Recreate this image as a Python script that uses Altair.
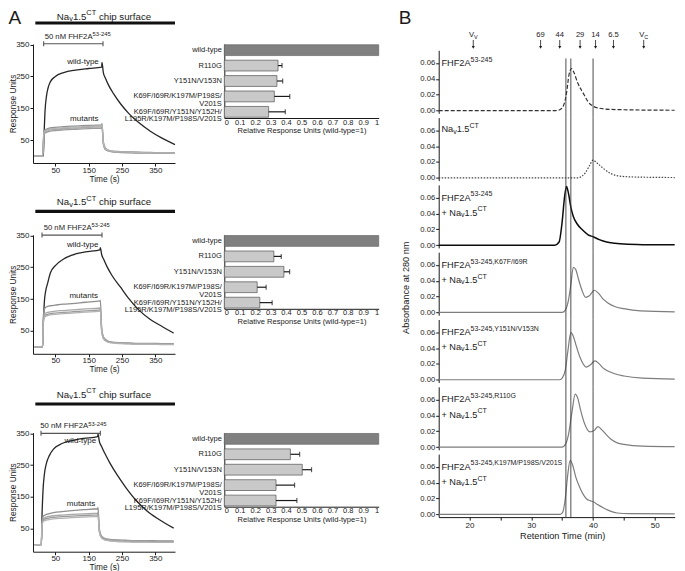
import altair as alt
import pandas as pd

FONT = "Liberation Sans"
INK = "#1a1a1a"

# ---------------- Panel A: sensorgram traces (Response Units vs Time) ----------------
time_nav15 = [-12, 12, 14, 16, 19, 23, 28, 35, 50, 75, 110, 150, 189, 190, 194, 200, 210, 225, 245, 270, 300, 335, 370, 409]
wt_nav15 = [0, 0, 0, 60, 140, 185, 213, 233, 250, 262, 270, 275, 279, 294, 262, 245, 222, 195, 165, 134, 105, 78, 56, 36]
mut1_nav15 = [0, 0, 45, 78, 82, 84, 86, 88, 90, 92, 94, 96, 98, 102, 45, 25, 18, 15, 14, 13, 12, 11, 10, 10]
mut2_nav15 = [0, 0, 40, 72, 76, 78, 80, 82, 84, 86, 88, 90, 92, 95, 40, 22, 16, 13, 12, 11, 10, 10, 9, 9]
mut3_nav15 = [0, 0, 38, 68, 72, 74, 76, 78, 80, 82, 84, 86, 88, 91, 38, 20, 15, 12, 11, 10, 9, 9, 8, 8]
mut4_nav15 = [0, 0, 42, 75, 79, 81, 83, 85, 87, 89, 91, 93, 95, 98, 42, 23, 17, 14, 13, 12, 11, 10, 10, 9]

time_nav16 = [-12, 10, 12, 14, 17, 21, 27, 35, 50, 75, 100, 140, 184, 185, 189, 195, 205, 220, 245, 270, 300, 335, 370, 405]
wt_nav16 = [0, 0, 0, 70, 140, 175, 200, 232, 255, 276, 288, 298, 305, 312, 290, 275, 252, 224, 188, 152, 116, 86, 64, 43]
mut1_nav16 = [0, 0, 5, 95, 118, 124, 127, 129, 131, 134, 136, 140, 144, 147, 60, 30, 20, 15, 13, 12, 11, 11, 10, 10]
mut2_nav16 = [0, 0, 5, 85, 102, 106, 108, 110, 112, 114, 116, 119, 122, 125, 55, 28, 18, 14, 12, 11, 10, 10, 9, 9]
mut3_nav16 = [0, 0, 5, 80, 96, 100, 102, 104, 106, 108, 110, 113, 116, 118, 50, 25, 17, 13, 11, 10, 9, 9, 8, 8]
mut4_nav16 = [0, 0, 5, 78, 92, 96, 98, 100, 102, 104, 106, 109, 112, 114, 48, 24, 16, 12, 10, 9, 8, 8, 7, 7]

time_nav19 = [-12, 6, 8, 10, 13, 17, 23, 32, 45, 70, 100, 135, 177, 178, 182, 188, 198, 213, 235, 260, 290, 325, 360, 405]
wt_nav19 = [0, 0, 0, 90, 170, 220, 255, 280, 301, 318, 327, 334, 340, 348, 325, 310, 288, 258, 220, 182, 142, 106, 80, 52]
mut1_nav19 = [0, 0, 0, 70, 88, 92, 95, 98, 101, 104, 107, 110, 113, 117, 50, 28, 20, 17, 15, 14, 13, 13, 12, 12]
mut2_nav19 = [0, 0, 0, 65, 80, 84, 87, 89, 91, 93, 95, 97, 99, 102, 45, 25, 18, 15, 13, 12, 11, 11, 10, 10]
mut3_nav19 = [0, 0, 0, 62, 76, 80, 82, 84, 86, 88, 90, 92, 94, 97, 42, 23, 16, 13, 11, 10, 9, 9, 8, 8]
mut4_nav19 = [0, 0, 0, 60, 72, 75, 77, 79, 81, 83, 85, 87, 89, 92, 40, 22, 15, 12, 10, 9, 8, 8, 7, 7]

# ---------------- Panel A: relative binding bars ----------------
bar_categories = ["wild-type", "R110G", "Y151N/V153N",
                  "K69F/I69R/K197M/P198S/|V201S",
                  "K69F/I69R/Y151N/Y152H/|L195R/K197M/P198S/V201S"]
rel_nav15 = [1.0, 0.348, 0.341, 0.324, 0.287]
err_nav15 = [0.0, 0.026, 0.037, 0.100, 0.108]
rel_nav16 = [1.0, 0.321, 0.386, 0.213, 0.230]
err_nav16 = [0.0, 0.048, 0.037, 0.058, 0.080]
rel_nav19 = [1.0, 0.428, 0.505, 0.335, 0.335]
err_nav19 = [0.0, 0.060, 0.060, 0.120, 0.135]

# ---------------- Panel B: size-exclusion chromatograms ----------------
rt_fhf = [15, 34.0, 34.6, 35.2, 35.7, 36.1, 36.5, 36.9, 37.5, 38.4, 39.2, 40.1, 41.0, 41.8, 43.0, 45.0, 48.0, 55.0]
abs_fhf = [0, 0, 0.001, 0.006, 0.022, 0.045, 0.053, 0.048, 0.035, 0.022, 0.011, 0.005, 0.003, 0.002, 0.0014, 0.001, 0.0006, 0.0003]
rt_nav = [15, 37.5, 38.2, 38.8, 39.4, 40.0, 40.6, 41.2, 41.8, 43.0, 44.0, 46.0, 50.0, 55.0]
abs_nav = [0, 0, 0.002, 0.007, 0.015, 0.0224, 0.019, 0.015, 0.011, 0.005, 0.0025, 0.0012, 0.0006, 0.0003]
rt_cplx = [15, 33.8, 34.5, 35.0, 35.4, 35.7, 36.0, 36.4, 36.8, 37.4, 38.3, 39.2, 40.0, 41.0, 42.2, 43.5, 45.0, 48.0, 55.0]
abs_cplx = [0, 0, 0.004, 0.030, 0.062, 0.074, 0.066, 0.048, 0.036, 0.027, 0.019, 0.013, 0.0105, 0.007, 0.004, 0.0025, 0.0013, 0.0006, 0.0003]
rt_k67f = [15, 35.0, 35.5, 36.0, 36.4, 36.8, 37.2, 37.6, 38.2, 38.8, 39.4, 40.2, 40.9, 41.6, 42.4, 43.5, 45.0, 47.7, 55.0]
abs_k67f = [0, 0, 0.003, 0.015, 0.035, 0.057, 0.054, 0.043, 0.028, 0.019, 0.021, 0.028, 0.024, 0.017, 0.012, 0.0075, 0.0047, 0.002, 0.0005]
rt_y151n = [15, 34.6, 35.0, 35.5, 35.9, 36.4, 36.8, 37.3, 37.9, 38.9, 39.6, 40.3, 41.0, 41.6, 42.4, 43.5, 45.0, 48.0, 55.0]
abs_y151n = [0, 0, 0.002, 0.012, 0.035, 0.0595, 0.055, 0.042, 0.028, 0.016, 0.019, 0.0237, 0.020, 0.015, 0.011, 0.0075, 0.0047, 0.002, 0.0005]
rt_r110g = [15, 35.0, 35.5, 36.0, 36.6, 37.1, 37.5, 38.0, 38.6, 39.5, 40.2, 40.8, 41.5, 42.2, 42.9, 44.0, 45.0, 48.0, 55.0]
abs_r110g = [0, 0, 0.003, 0.015, 0.045, 0.0667, 0.062, 0.046, 0.030, 0.019, 0.021, 0.0257, 0.021, 0.015, 0.0097, 0.005, 0.0034, 0.0012, 0.0005]
rt_k197m = [15, 34.7, 35.1, 35.5, 35.9, 36.3, 36.7, 37.2, 37.9, 38.5, 39.0, 39.6, 40.1, 40.8, 41.7, 42.8, 43.9, 46.0, 55.0]
abs_k197m = [0, 0, 0.003, 0.020, 0.050, 0.068, 0.062, 0.047, 0.033, 0.024, 0.019, 0.017, 0.0156, 0.012, 0.008, 0.004, 0.0017, 0.0009, 0.0004]

chrom_sup = ["53-245", None, "53-245", "53-245,K67F/I69R", "53-245,Y151N/V153N",
             "53-245,R110G", "53-245,K197M/P198S/V201S"]
marker_labels = ["VV", "69", "44", "29", "14", "6.5", "VC"]
marker_rt = [20.6, 31.5, 34.6, 37.9, 40.4, 43.3, 48.2]
guide_rt = [35.6, 36.4, 40.0]

# ---------------- helpers ----------------
AW = {' ': 278, '!': 278, '(': 333, ')': 333, ',': 278, '-': 333, '.': 278, '/': 278, '=': 584, '+': 584,
      'A': 667, 'B': 667, 'C': 722, 'D': 722, 'E': 667, 'F': 611, 'G': 778, 'H': 722, 'I': 278, 'J': 500,
      'K': 667, 'L': 556, 'M': 833, 'N': 722, 'O': 778, 'P': 667, 'Q': 778, 'R': 722, 'S': 667, 'T': 611,
      'U': 722, 'V': 667, 'W': 944, 'X': 667, 'Y': 667, 'Z': 611,
      'a': 556, 'b': 556, 'c': 500, 'd': 556, 'e': 556, 'f': 278, 'g': 556, 'h': 556, 'i': 222, 'j': 222,
      'k': 500, 'l': 222, 'm': 833, 'n': 556, 'o': 556, 'p': 556, 'q': 556, 'r': 333, 's': 500, 't': 278,
      'u': 556, 'v': 500, 'w': 722, 'x': 500, 'y': 500, 'z': 500}


def text_w(s, fs):
    return sum(AW.get(c, 556) for c in s) * fs / 1000.0


def rich(segs, x, y, fs, ppx, ppy, center=False, ratio=0.76):
    sizes = [fs if k == "n" else fs * ratio for _, k in segs]
    total = sum(text_w(s, f) for (s, _), f in zip(segs, sizes))
    cur = -total / 2.0 if center else 0.0
    out = []
    for (s, k), f in zip(segs, sizes):
        while s.startswith(" "):
            cur += text_w(" ", f)
            s = s[1:]
        shift = 0.0 if k == "n" else (0.36 * fs if k == "p" else -0.24 * fs)
        out.append({"x": x + cur / ppx, "y": y + shift / ppy, "text": s, "size": f})
        cur += text_w(s, f)
    return out


def nav(prefix="Na"):
    return [(prefix, "n"), ("v", "b"), ("1.5", "n"), ("CT", "p")]


def ax(**kw):
    base = dict(grid=False, domainColor=INK, tickColor=INK, labelColor=INK, titleColor=INK,
                labelFont=FONT, titleFont=FONT, titleFontWeight="normal", domainWidth=1, tickWidth=1)
    base.update(kw)
    return alt.Axis(**base)


def text_layer(rows, X, Y):
    return alt.Chart(pd.DataFrame(rows)).mark_text(
        align="left", baseline="middle", font=FONT, color=INK, clip=False
    ).encode(x=X("x"), y=Y("y"), text="text:N", size=alt.Size("size:Q", scale=None))


def rule_layer(rows, X, Y, width, color):
    return alt.Chart(pd.DataFrame(rows)).mark_rule(strokeWidth=width, color=color, clip=False).encode(
        x=X("x"), x2="x2:Q", y=Y("y"), y2="y2:Q")


# ---------------- Panel A sensorgram ----------------
SX, SY, SW, SH = [-17, 409], [-22, 352], 142, 119
PPX_S = SW / (SX[1] - SX[0])
PPY_S = SH / (SY[1] - SY[0])
sens_data = [
    (time_nav15, [wt_nav15, mut1_nav15, mut2_nav15, mut3_nav15, mut4_nav15]),
    (time_nav16, [wt_nav16, mut1_nav16, mut2_nav16, mut3_nav16, mut4_nav16]),
    (time_nav19, [wt_nav19, mut1_nav19, mut2_nav19, mut3_nav19, mut4_nav19]),
]
SER = ["s0", "s1", "s2", "s3", "s4"]
SER_COL = ["#262626", "#8e8e8e", "#a8a8a8", "#9b9b9b", "#b4b4b4"]
TOP_EXT = 35.0            # content height above the row-1 plot top ("A" and title)
title_above = [TOP_EXT - 7.5, 32.4, 38.0]
bar_above = [21.0, 23.4, 28.7]
bracket_x = [(15, 193), (10, 190), (7, 185)]
bracket_y = [353, 351, 350]
bracket_tx = [18, 15, 5]
wt_lab = [(133, 294), (132, 321), (125, 325)]
mut_lab = [(137, 116), (135, 160), (127, 128)]
A_LEFT = 24.5


def sensor_chart(r):
    t, series = sens_data[r]
    recs = []
    for name, vals in zip(SER, series):
        for tt, vv in zip(t, vals):
            recs.append({"x": tt, "y": vv, "s": name})
    df = pd.DataFrame(recs)
    xs = alt.Scale(domain=SX, nice=False, zero=False)
    ys = alt.Scale(domain=SY, nice=False, zero=False)
    xa = ax(values=[50, 150, 250, 350], title="Time (s)", tickSize=3, labelFontSize=8,
            titleFontSize=8.3, labelPadding=0, titlePadding=0)
    ya = ax(values=[50, 150, 250, 350], title="Response Units", tickSize=3, labelFontSize=8,
            titleFontSize=8.3, labelPadding=1, titlePadding=-2)
    X = lambda f: alt.X(f"{f}:Q", scale=xs, axis=xa)
    Y = lambda f: alt.Y(f"{f}:Q", scale=ys, axis=ya)
    lines = alt.Chart(df).mark_line(interpolate="monotone", strokeWidth=1.3).encode(
        x=X("x"), y=Y("y"),
        color=alt.Color("s:N", scale=alt.Scale(domain=SER, range=SER_COL), legend=None))
    ytop = SY[1]
    ybar = ytop + bar_above[r] / PPY_S
    thick = rule_layer([{"x": -10, "x2": 409, "y": ybar, "y2": ybar}], X, Y, 3.2, "#111111")
    bx0, bx1 = bracket_x[r]
    by = bracket_y[r]
    cap = 2.5 / PPY_S
    brk = rule_layer([{"x": bx0, "x2": bx1, "y": by, "y2": by},
                      {"x": bx0, "x2": bx0, "y": by - cap, "y2": by + cap},
                      {"x": bx1, "x2": bx1, "y": by - cap, "y2": by + cap}], X, Y, 1.1, "#555555")
    rows = []
    rows += rich(nav() + [(" chip surface", "n")], (SX[0] + SX[1]) / 2.0,
                 ytop + title_above[r] / PPY_S, 9.7, PPX_S, PPY_S, center=True)
    rows += rich([("50 nM FHF2A", "n"), ("53-245", "p")], bracket_tx[r], by + 7.0 / PPY_S,
                 7.7, PPX_S, PPY_S)
    rows += rich([("wild-type", "n")], wt_lab[r][0], wt_lab[r][1], 8, PPX_S, PPY_S, center=True)
    rows += rich([("mutants", "n")], mut_lab[r][0], mut_lab[r][1], 8, PPX_S, PPY_S, center=True)
    if r == 0:
        rows.append({"x": SX[0] - A_LEFT / PPX_S, "y": ytop + (TOP_EXT - 9) / PPY_S, "text": "A", "size": 19})
    txt = text_layer(rows, X, Y)
    return alt.layer(lines, thick, brk, txt).properties(width=SW, height=SH)


# ---------------- Panel A bar chart ----------------
BW, BH = 154.4, 74
bar_data = [(rel_nav15, err_nav15), (rel_nav16, err_nav16), (rel_nav19, err_nav19)]


def bar_chart(r):
    vals, errs = bar_data[r]
    df = pd.DataFrame({"cat": bar_categories, "val": vals,
                       "hi": [v + e for v, e in zip(vals, errs)],
                       "grp": ["wt"] + ["mut"] * (len(vals) - 1)})
    xs = alt.Scale(domain=[0, 1], nice=False, zero=True)
    ys = alt.Scale(domain=bar_categories, paddingInner=0.3, paddingOuter=0.05)
    xa = ax(values=[0, 0.1, 0.2, 0.3, 0.4, 0.5, 0.6, 0.7, 0.8, 0.9, 1.0], format="~g",
            title="Relative Response Units (wild-type=1)", ticks=False, labelFontSize=7.5,
            titleFontSize=7.6, labelPadding=0, titlePadding=1)
    ya = ax(title=None, labelExpr="split(datum.label, '|')", ticks=False, labelFontSize=7.5,
            labelLineHeight=7.5, labelPadding=3, labelLimit=0)
    X = lambda f: alt.X(f"{f}:Q", scale=xs, axis=xa)
    Yc = alt.Y("cat:N", sort=bar_categories, scale=ys, axis=ya)
    wt_df = df[df.grp == "wt"]
    mut_df = df[df.grp == "mut"]
    b_wt = alt.Chart(wt_df).mark_bar(color="#808080", stroke="#666666", strokeWidth=0.7).encode(
        x=X("val"), y=Yc)
    b_mut = alt.Chart(mut_df).mark_bar(color="#c9c9c9", stroke="#555555", strokeWidth=0.7).encode(
        x=X("val"), y=Yc)
    el = alt.Chart(mut_df).mark_rule(color=INK, strokeWidth=1.2).encode(x=X("val"), x2="hi:Q", y=Yc)
    ec = alt.Chart(mut_df).mark_tick(color=INK, thickness=1.2, size=5).encode(x=X("hi"), y=Yc)
    return alt.layer(b_wt, b_mut, el, ec).properties(width=BW, height=BH)


# ---------------- Panel B chromatograms ----------------
PPX_C = 247 / 40.0                # px per minute, as in the figure
CW = 236                          # kept inside the page width
CX = [15, 15 + CW / PPX_C]
CY, CH = [-0.0035, 0.076], 63
PPY_C = CH / (CY[1] - CY[0])
GAP = 4.3
MK_H = 2.0
chrom_data = [(rt_fhf, abs_fhf), (rt_nav, abs_nav), (rt_cplx, abs_cplx), (rt_k67f, abs_k67f),
              (rt_y151n, abs_y151n), (rt_r110g, abs_r110g), (rt_k197m, abs_k197m)]
chrom_style = [dict(color="#333333", strokeWidth=1.2, strokeDash=[4, 2]),
               dict(color="#444444", strokeWidth=1.2, strokeDash=[1.5, 1.5]),
               dict(color="#0d0d0d", strokeWidth=1.5),
               dict(color="#7d7d7d", strokeWidth=1.2), dict(color="#7d7d7d", strokeWidth=1.2),
               dict(color="#7d7d7d", strokeWidth=1.2), dict(color="#7d7d7d", strokeWidth=1.2)]


def chrom_chart(i):
    rt, ab = chrom_data[i]
    df = pd.DataFrame({"x": rt, "y": ab})
    xs = alt.Scale(domain=CX, nice=False, zero=False)
    ys = alt.Scale(domain=CY, nice=False, zero=False)
    ya = ax(values=[0, 0.02, 0.04, 0.06], format=".2f", title=None, tickSize=3, labelFontSize=7.7,
            labelPadding=1)
    if i == 6:
        xa = ax(values=[20, 25, 30, 35, 40, 45, 50], labelExpr="datum.value % 10 === 0 ? datum.label : ''",
                title="Retention Time (min)", tickSize=3, labelFontSize=8, titleFontSize=9.2,
                labelPadding=1, titlePadding=2, titleX=(55 - 15) * PPX_C / 2.0, titleAnchor="middle")
        X = lambda f: alt.X(f"{f}:Q", scale=xs, axis=xa)
    else:
        X = lambda f: alt.X(f"{f}:Q", scale=xs, axis=None)
    Y = lambda f: alt.Y(f"{f}:Q", scale=ys, axis=ya)
    line = alt.Chart(df).mark_line(interpolate="monotone", clip=True, **chrom_style[i]).encode(
        x=X("x"), y=Y("y"))
    top = 0.0657 if i == 0 else CY[1]
    bot = CY[0] if i == 6 else CY[0] - GAP / PPY_C
    vl = rule_layer([{"x": g, "x2": g, "y": top, "y2": bot} for g in guide_rt], X, Y, 0.9, "#3a3a3a")
    rows = []
    lx = 15.44
    if chrom_sup[i] is None:
        rows += rich(nav(), lx, 0.061, 9.2, PPX_C, PPY_C)
    else:
        rows += rich([("FHF2A", "n"), (chrom_sup[i], "p")], lx, 0.06, 9.2, PPX_C, PPY_C)
        if i >= 2:
            rows += rich(nav("+ Na"), lx, 0.041, 9.2, PPX_C, PPY_C)
    layers = [line, vl, text_layer(rows, X, Y)]
    if i == 3:
        tdf = pd.DataFrame({"x": [15 + (405.5 - 438) / PPX_C], "y": [CY[1] - 35.5 / PPY_C],
                            "text": ["Absorbance at 280 nm"]})
        layers.append(alt.Chart(tdf).mark_text(angle=270, align="center", baseline="middle", font=FONT,
                                               fontSize=9.2, color=INK, clip=False).encode(
            x=X("x"), y=Y("y"), text="text:N"))
    return alt.layer(*layers).properties(width=CW, height=CH)


def marker_chart():
    xs = alt.Scale(domain=CX, nice=False, zero=False)
    ys = alt.Scale(domain=[0, MK_H], nice=False, zero=False)
    X = lambda f: alt.X(f"{f}:Q", scale=xs, axis=None)
    Y = lambda f: alt.Y(f"{f}:Q", scale=ys, axis=None)
    rows = []
    for lab, pos in zip(marker_labels, marker_rt):
        if lab.startswith("V"):
            segs = [("V", "n"), (lab[1], "b")]
        else:
            segs = [(lab, "n")]
        rows += rich(segs, pos, MK_H + 8.7, 7.6, PPX_C, 1.0, center=True, ratio=0.72)
    rows.append({"x": 15 + (398 - 438) / PPX_C, "y": MK_H + TOP_EXT - 9, "text": "B", "size": 19})
    txt = text_layer(rows, X, Y)
    ar = rule_layer([{"x": p, "x2": p, "y": MK_H + 4.0, "y2": MK_H - 3.2} for p in marker_rt], X, Y, 0.8, INK)
    heads = alt.Chart(pd.DataFrame({"x": marker_rt, "y": [MK_H - 3.4] * len(marker_rt)})).mark_point(
        shape="triangle-down", filled=True, size=9, color=INK, opacity=1, clip=False).encode(x=X("x"), y=Y("y"))
    return alt.layer(txt, ar, heads).properties(width=CW, height=MK_H)


# ---------------- layout ----------------
B_EXT = 138.3                           # content below a sensor plot top (down to "Time (s)")
T_EXT = [TOP_EXT] + [ta + 7.5 for ta in title_above[1:]]
row_top = [8 + TOP_EXT, 232.0, 428.5]   # page y of each sensor plot top
sp1 = (row_top[1] - row_top[0]) - B_EXT - T_EXT[1]
sp2 = (row_top[2] - row_top[1]) - B_EXT - T_EXT[2]
rows_a = [alt.hconcat(sensor_chart(r), bar_chart(r), spacing=49.3, bounds="flush") for r in range(3)]
col_a = alt.vconcat(alt.vconcat(rows_a[0], rows_a[1], spacing=sp1), rows_a[2], spacing=sp2)
col_b = alt.vconcat(marker_chart(), *[chrom_chart(i) for i in range(7)], spacing=GAP, bounds="flush")

origin_a = 8 + A_LEFT
right_a = origin_a + SW + 49.3 + BW + 2.1
sp_ab = 398 - right_a

chart = alt.hconcat(col_a, col_b, spacing=sp_ab).properties(
    padding={"left": 0, "top": 0, "right": 0, "bottom": 0}).configure(
    font=FONT).configure_view(stroke="transparent")

chart.save("out.html", embed_options={"renderer": "svg", "actions": False})
